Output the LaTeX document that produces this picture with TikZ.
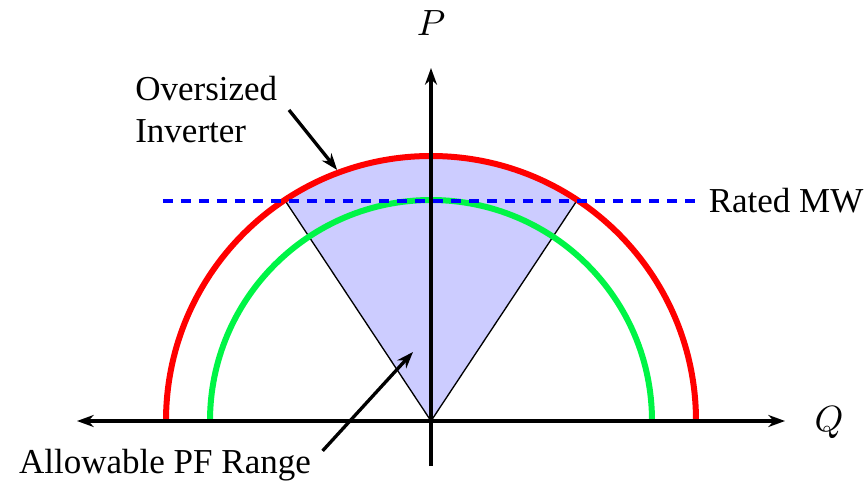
\documentclass[tikz,border=0pt]{standalone}
\usepackage{fontspec}
\setmainfont{Liberation Serif}
\usetikzlibrary{arrows.meta}
\definecolor{ringgreen}{RGB}{0,245,70}
\begin{document}
\begin{tikzpicture}[x=0.3pt, y=0.3pt, font=\fontsize{10.5}{12.6}\selectfont, line join=round,
		>={Stealth[length=5pt,width=3.6pt,inset=1.6pt]},
		axis/.style={line width=1pt},
		ring/.style={line width=1.8pt},
		note/.style={line width=1pt, ->}]
	\useasboundingbox (-431,-61) rectangle (434,421);
	% allowable sector
	\fill[blue!20] (0,0) -- (56.5:265) arc (56.5:123.5:265) -- cycle;
	\draw[line width=0.4pt] (56.5:265) -- (0,0) -- (123.5:265);
	\draw[ring, red] (-265,0) arc (180:0:265);
	\draw[ring, ringgreen] (-221,0) arc (180:0:221);
	\node[anchor=west] (rated) at (266,220) {Rated MW};
	\coordinate (ratedL) at (-268,220);
	\draw[blue, line width=1pt, dash pattern=on 3pt off 2.4pt] (ratedL) -- (rated.west);
	% axes
	\coordinate (qneg) at (-354,0);
	\coordinate (qpos) at (354,0);
	\coordinate (pbot) at (0,-45);
	\coordinate (ptop) at (0,353);
	\draw[axis, <->] (qneg) -- (qpos);
	\draw[axis, ->] (pbot) -- (ptop);
	\node (plab) at (0,398) {$P$};
	\node (qlab) at (398,-2) {$Q$};
	% labels
	\node[anchor=east, align=left] (oversz) at (-142,311) {Oversized\\Inverter};
	\coordinate (redpt) at (110.5:268);
	\draw[note] (oversz.east) -- (redpt);
	\node[anchor=base] (pfr) at (-266,-52) {Allowable PF Range};
	\coordinate (pftip) at (-18,69);
	\draw[note] (pfr.5) -- (pftip);
\end{tikzpicture}
\end{document}
